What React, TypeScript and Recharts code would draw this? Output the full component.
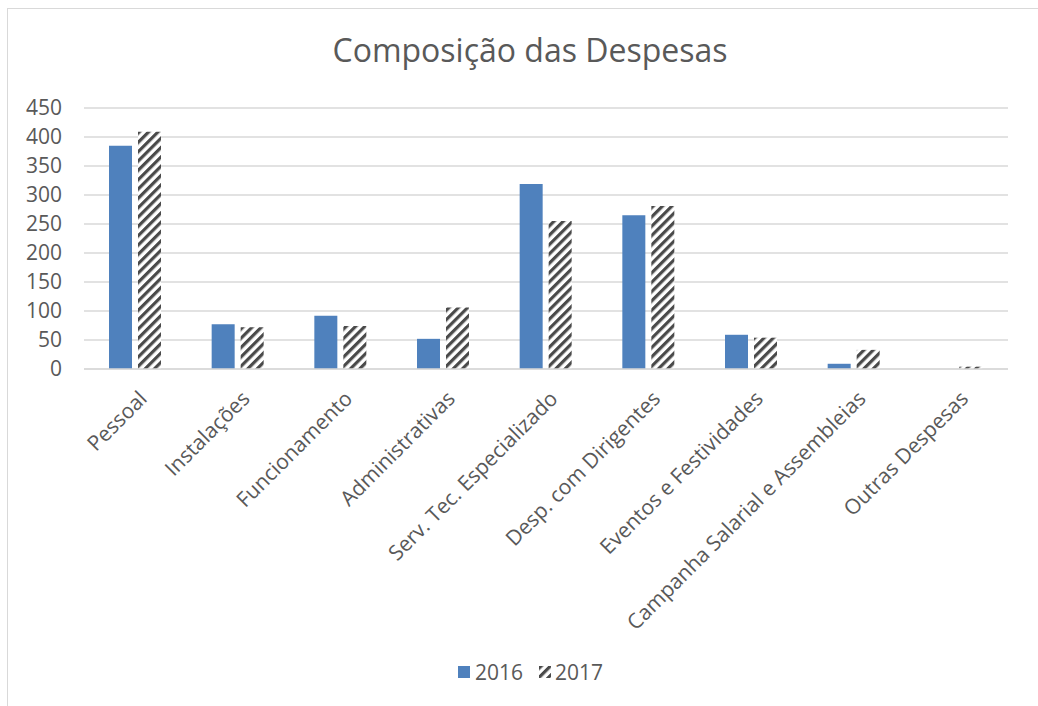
import React from 'react';
import { BarChart, Bar, XAxis, YAxis, CartesianGrid } from 'recharts';

const categories = [
    'Pessoal',
    'Instalações',
    'Funcionamento',
    'Administrativas',
    'Serv. Tec. Especializado',
    'Desp. com Dirigentes',
    'Eventos e Festividades',
    'Campanha Salarial e Assembleias',
    'Outras Despesas',
];
const values2016 = [385, 77, 92, 52, 319, 265, 59, 9, 0];
const values2017 = [409, 72, 74, 106, 255, 281, 54, 33, 4];
const yTicks = [0, 50, 100, 150, 200, 250, 300, 350, 400, 450];

const BLUE = '#4f81bd';
const HATCH_INK = '#4a4a4a';
const GRID = '#d9d9d9';
const INK = '#595959';
const FONT = '"Open Sans", sans-serif';

const data = categories.map((name, i) => ({ name, y2016: values2016[i], y2017: values2017[i] }));

const HatchDef: React.FC<{ id: string }> = ({ id }) => (
    <pattern id={id} patternUnits="userSpaceOnUse" width={6.6} height={6.6} patternTransform="rotate(45)">
        <rect x={0} y={0} width={6.6} height={6.6} fill="#ffffff" />
        <rect x={0} y={0} width={3.2} height={6.6} fill={HATCH_INK} />
    </pattern>
);

// rotated category labels, right end sits just past the tick
const AngledTick = (props: any) => {
    const { x, y, payload } = props;
    const tx = x + 13;
    const ty = y + 31;
    return (
        <text x={tx} y={ty} transform={`rotate(-45, ${tx}, ${ty})`} textAnchor="end"
            fill={INK} fontSize={21} fontFamily={FONT}>{payload.value}</text>
    );
};

export default function App() {
    return (
        <div style={{ position: 'fixed', left: 0, top: 0, width: 1038, height: 706, overflow: 'hidden', background: '#fff' }}>
            <div style={{ position: 'absolute', left: 7, top: 8, width: 1045, height: 710, border: `1px solid ${GRID}`, fontFamily: FONT }}>
                <div style={{ position: 'absolute', left: 0, top: 19, width: 1044, textAlign: 'center', fontSize: 32, lineHeight: '44px', color: INK }}>
                    Composição das Despesas
                </div>
                <BarChart width={1030} height={690} data={data} barSize={23} barGap={6}
                    margin={{ top: 99, right: 30, left: 0, bottom: 0 }}>
                    <defs>
                        <HatchDef id="hatch2017" />
                    </defs>
                    <CartesianGrid stroke={GRID} strokeWidth={1.5} vertical={false} />
                    <XAxis dataKey="name" interval={0} height={330} tick={<AngledTick />}
                        tickLine={false} tickSize={0} tickMargin={0} axisLine={{ stroke: GRID, strokeWidth: 1.5 }} />
                    <YAxis domain={[0, 450]} ticks={yTicks} interval={0} width={76} axisLine={false} tickLine={false}
                        tickSize={0} tickMargin={22} tick={{ fontSize: 21, fill: INK, fontFamily: FONT }} />
                    <Bar dataKey="y2016" name="2016" fill={BLUE} isAnimationActive={false} />
                    <Bar dataKey="y2017" name="2017" fill="url(#hatch2017)" isAnimationActive={false} />
                </BarChart>
                <div style={{ position: 'absolute', left: 450, top: 649, display: 'flex', alignItems: 'center', fontSize: 21, lineHeight: '28px', color: INK }}>
                    <span style={{ width: 12, height: 12, background: BLUE, display: 'inline-block', marginRight: 5 }} />
                    <span style={{ marginRight: 16 }}>2016</span>
                    <svg width={12} height={12} style={{ marginRight: 4 }}>
                        <defs><HatchDef id="hatchLegend" /></defs>
                        <rect width={12} height={12} fill="url(#hatchLegend)" />
                    </svg>
                    <span>2017</span>
                </div>
            </div>
        </div>
    );
}
